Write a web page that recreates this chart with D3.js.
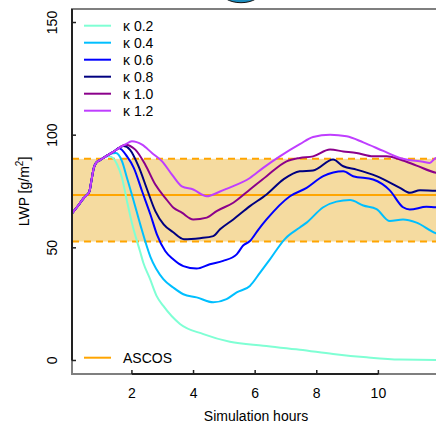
<!DOCTYPE html>
<html>
<head>
<meta charset="utf-8">
<script src="https://cdn.jsdelivr.net/npm/d3@7"></script>
<style>
  body { margin: 0; background: #fff; }
  text { font-family: "Liberation Sans", Arial, Helvetica, sans-serif; }
</style>
</head>
<body>
<div id="chart"></div>
<script>

// shared spin-up, all runs identical until ~1.1 h
const spinUp = [
    [0.055, 65.3], [0.27, 69], [0.43, 72], [0.54, 73.5], [0.62, 75],
    [0.68, 79.4], [0.76, 85.3], [0.83, 87.6], [0.97, 89], [1.14, 90.5]
];

const kappa02 = [
    [1.25, 90.6], [1.35, 90.2], [1.52, 87], [1.68, 81], [1.84, 70.7],
    [2.0, 61], [2.26, 48.6], [2.37, 43.4], [2.59, 36.1], [2.8, 28.7],
    [3.02, 24.2], [3.56, 16.2], [4.32, 11.7], [5.18, 8.3], [6.26, 6.5],
    [7.45, 4.8], [8.53, 2.9], [9.62, 1.4], [10.7, 0.4], [11.87, 0.2], [12, 0.2]
];
const kappa04 = [
    [1.3, 91.8], [1.48, 92.1], [1.68, 88.4], [1.84, 81], [2.06, 70.7],
    [2.27, 60.4], [2.6, 46], [3.02, 36.1], [3.34, 32.4], [3.67, 29.4],
    [4.1, 28], [4.64, 25.8], [5.07, 27.2], [5.4, 30.2], [5.83, 33.1],
    [6.16, 39], [6.48, 44.9], [6.97, 54], [7.45, 59], [7.67, 61.2],
    [8.21, 68], [8.64, 70.5], [9.08, 71.2], [9.51, 68.8], [9.94, 67.2],
    [10.37, 61.9], [10.8, 62.6], [11.24, 61.2], [11.87, 56.5], [12, 56]
];
const kappa06 = [
    [1.3, 91.8], [1.46, 93.2], [1.57, 94.3], [1.84, 90.6], [2.06, 85.5],
    [2.33, 75.1], [2.6, 64.8], [2.81, 56], [3.08, 48.6], [3.34, 44.9],
    [3.67, 41.9], [4.1, 40.8], [4.53, 42.7], [4.96, 44.2], [5.4, 47.1],
    [5.61, 51], [5.83, 53], [6.1, 58], [6.37, 62.6], [7.13, 72.9],
    [7.67, 76.6], [8.21, 81.8], [8.86, 84], [9.18, 81.8], [9.83, 80.3],
    [10.37, 75.5], [10.8, 68], [11.02, 67], [11.56, 68.2], [11.87, 68], [12, 68]
];
const kappa08 = [
    [1.3, 91.8], [1.46, 93.2], [1.61, 94.6], [1.73, 95.2], [1.94, 93.5],
    [2.22, 86], [2.49, 76], [2.76, 66.3], [3.03, 60.4], [3.33, 57],
    [3.69, 53.8], [4.21, 54.3], [4.64, 55.2], [4.86, 58.2], [5.29, 62.6],
    [5.83, 68.5], [6.37, 73.7], [6.91, 80.3], [7.45, 84], [7.88, 84.3],
    [8.53, 89.2], [8.86, 86.2], [9.29, 84.7], [9.94, 81.8], [10.7, 76.6],
    [11.02, 74.4], [11.35, 75.6], [11.87, 75.3], [12, 75.3]
];
const kappa10 = [
    [1.3, 91.8], [1.46, 93.2], [1.61, 94.6], [1.78, 95.8], [2.11, 93.6],
    [2.43, 87], [2.76, 78.1], [3.08, 72.2], [3.35, 67.8], [3.62, 65.6],
    [3.99, 62.6], [4.43, 63.4], [4.75, 66.3], [5.29, 70], [5.83, 75.9],
    [6.37, 81.8], [7.02, 88.4], [7.45, 89.9], [7.88, 90.6], [8.43, 93.6],
    [8.86, 92.8], [9.29, 92.1], [9.83, 90.6], [10.27, 90.6], [10.7, 89.2],
    [11.24, 86.5], [11.87, 83.3], [12, 83]
];
const kappa12 = [
    [1.3, 91.8], [1.46, 93.2], [1.61, 94.6], [1.78, 95.8], [2.0, 97.3],
    [2.33, 95.8], [2.65, 92.1], [2.98, 88.4], [3.3, 82.5], [3.62, 77.3],
    [3.99, 75.9], [4.43, 72.9], [4.86, 75], [5.07, 76.2], [5.83, 81],
    [6.26, 85.5], [6.8, 90.6], [7.45, 96], [7.88, 99.2], [8.43, 100.2],
    [8.97, 99.5], [9.51, 96.8], [10.16, 93], [10.7, 89.9], [11.45, 88.2],
    [11.67, 87.7], [11.87, 89.9], [12, 90]
];

const seriesNames = ['\u03ba 0.2', '\u03ba 0.4', '\u03ba 0.6', '\u03ba 0.8', '\u03ba 1.0', '\u03ba 1.2'];
const seriesColors = ['#7FFFD4', '#00BFFF', '#0000FF', '#000080', '#8B008B', '#BF3EFF'];
const seriesData = [kappa02, kappa04, kappa06, kappa08, kappa10, kappa12];

// ASCOS observations: lower, mean, upper
const ascos = [52.8, 73.5, 89.5];

const xTicks = [2, 4, 6, 8, 10];
const yTicks = [0, 50, 100, 150];

const width = 436;
const height = 423;
const plot = { left: 72, right: 440, top: 9, bottom: 374 };

var svg = d3.select('#chart')
    .append('svg')
    .attr('width', width)
    .attr('height', height);

var xScale = d3.scaleLinear().domain([0.055, 12]).range([plot.left, plot.right]);
var yScale = d3.scaleLinear().domain([-6, 156]).range([plot.bottom, plot.top]);

svg.append('clipPath')
    .attr('id', 'plot-clip')
    .append('rect')
    .attr('x', plot.left)
    .attr('y', plot.top)
    .attr('width', plot.right - plot.left)
    .attr('height', plot.bottom - plot.top);

// bit of the neighbouring panel poking in at the top
svg.append('ellipse')
    .attr('cx', 241)
    .attr('cy', -10)
    .attr('rx', 21)
    .attr('ry', 12.7)
    .style('fill', '#1c8cbd')
    .style('stroke', '#111')
    .style('stroke-width', 1);

var g = svg.append('g').attr('clip-path', 'url(#plot-clip)');

// observation range
g.append('rect')
    .attr('x', plot.left)
    .attr('width', plot.right - plot.left)
    .attr('y', yScale(ascos[2]))
    .attr('height', yScale(ascos[0]) - yScale(ascos[2]))
    .style('fill', '#F5DBA0');

g.selectAll('.ascos-line')
    .data(ascos)
    .enter()
    .append('line')
    .attr('x1', plot.left)
    .attr('x2', plot.right)
    .attr('y1', d => yScale(d))
    .attr('y2', d => yScale(d))
    .style('stroke', '#FFA500')
    .style('stroke-width', 2)
    .style('stroke-dasharray', (d, i) => i === 1 ? null : '7,5');

var line = d3.line()
    .x(d => xScale(d[0]))
    .y(d => yScale(d[1]))
    .curve(d3.curveMonotoneX);

g.selectAll('.run')
    .data(seriesData)
    .enter()
    .append('path')
    .attr('class', 'run')
    .attr('d', d => line(spinUp.concat(d)))
    .style('fill', 'none')
    .style('stroke', (d, i) => seriesColors[i])
    .style('stroke-width', 2)
    .style('stroke-linejoin', 'round');

// box (grey) then axes (black between first and last tick)
svg.append('rect')
    .attr('x', plot.left)
    .attr('y', plot.top)
    .attr('width', plot.right - plot.left)
    .attr('height', plot.bottom - plot.top)
    .style('fill', 'none')
    .style('stroke', '#7f7f7f')
    .style('stroke-width', 2);

svg.append('line')
    .attr('x1', xScale(xTicks[0])).attr('x2', xScale(xTicks[xTicks.length - 1]))
    .attr('y1', plot.bottom).attr('y2', plot.bottom)
    .style('stroke', '#222').style('stroke-width', 2);

svg.append('line')
    .attr('x1', plot.left).attr('x2', plot.left)
    .attr('y1', yScale(yTicks[0])).attr('y2', plot.top)
    .style('stroke', '#222').style('stroke-width', 2);

svg.selectAll('.xtick')
    .data(xTicks)
    .enter()
    .append('line')
    .attr('x1', d => xScale(d)).attr('x2', d => xScale(d))
    .attr('y1', plot.bottom).attr('y2', plot.bottom - 4)
    .style('stroke', '#222').style('stroke-width', 1.5);

svg.selectAll('.xlab')
    .data(xTicks)
    .enter()
    .append('text')
    .attr('x', d => xScale(d))
    .attr('y', 398)
    .attr('text-anchor', 'middle')
    .style('font-size', '14px')
    .text(d => d);

svg.selectAll('.ytick')
    .data(yTicks)
    .enter()
    .append('line')
    .attr('x1', plot.left).attr('x2', plot.left + 4)
    .attr('y1', d => yScale(d)).attr('y2', d => yScale(d))
    .style('stroke', '#222').style('stroke-width', 1.5);

svg.selectAll('.ylab')
    .data(yTicks)
    .enter()
    .append('text')
    .attr('transform', d => 'translate(57,' + yScale(d) + ')rotate(-90)')
    .attr('text-anchor', 'middle')
    .style('font-size', '14px')
    .text(d => d);

// axis titles
svg.append('text')
    .attr('x', (plot.left + plot.right) / 2)
    .attr('y', 421)
    .attr('text-anchor', 'middle')
    .style('font-size', '14px')
    .text('Simulation hours');

var ytitle = svg.append('text')
    .attr('transform', 'translate(29,' + (plot.top + plot.bottom) / 2 + ')rotate(-90)')
    .attr('text-anchor', 'middle')
    .style('font-size', '14px');
ytitle.append('tspan').text('LWP [g/m');
ytitle.append('tspan').attr('dy', -6).style('font-size', '10px').text('2');
ytitle.append('tspan').attr('dy', 6).text(']');

// legend
var legend = svg.append('g');
seriesNames.forEach(function (name, i) {
    var ly = 25.7 + i * 17;
    legend.append('line')
        .attr('x1', 84).attr('x2', 111)
        .attr('y1', ly).attr('y2', ly)
        .style('stroke', seriesColors[i])
        .style('stroke-width', 2);
    legend.append('text')
        .attr('x', 123)
        .attr('y', ly + 5)
        .style('font-size', '14px')
        .text(name);
});

legend.append('line')
    .attr('x1', 84).attr('x2', 111)
    .attr('y1', 357.7).attr('y2', 357.7)
    .style('stroke', '#FFA500')
    .style('stroke-width', 2);
legend.append('text')
    .attr('x', 123)
    .attr('y', 362.7)
    .style('font-size', '14px')
    .text('ASCOS');

</script>
</body>
</html>
